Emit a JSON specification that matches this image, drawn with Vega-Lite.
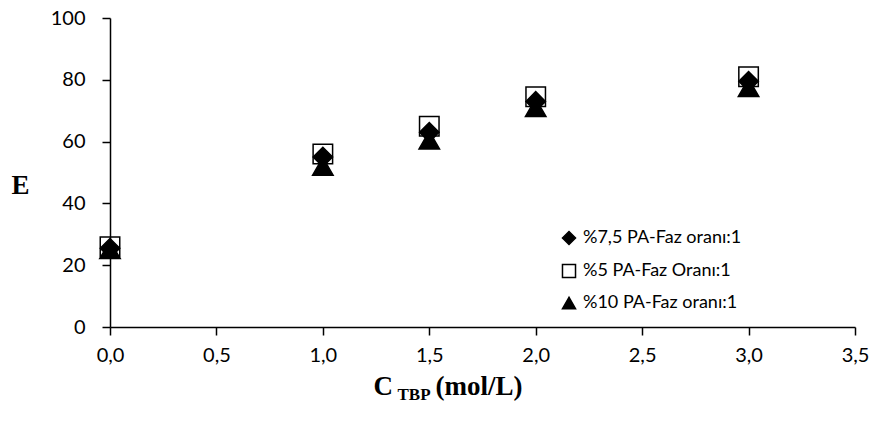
{
  "$schema": "https://vega.github.io/schema/vega-lite/v6.json",
  "autosize": "none",
  "width": 745,
  "height": 309,
  "padding": {"left": 110, "top": 18, "right": 21, "bottom": 98},
  "background": "white",
  "config": {
    "view": {"stroke": null},
    "axis": {
      "grid": false,
      "domainColor": "black",
      "tickColor": "black",
      "labelColor": "black",
      "labelFont": "Lato",
      "labelFontSize": 20,
      "domainWidth": 1.5,
      "tickWidth": 1.5,
      "tickSize": 8,
      "titleColor": "black",
      "titleFont": "Liberation Serif",
      "titleFontWeight": "bold"
    },
    "legend": {
      "orient": "none",
      "legendX": 450,
      "legendY": 211,
      "title": null,
      "labelFont": "Lato",
      "labelFontSize": 18,
      "labelColor": "black",
      "symbolSize": 170,
      "rowPadding": 13,
      "symbolStrokeWidth": 1.5,
      "labelOffset": 5
    }
  },
  "data": {
    "values": [
      {"c": 0, "E": 25.5, "series": "%7,5 PA-Faz oranı:1"},
      {"c": 1, "E": 55, "series": "%7,5 PA-Faz oranı:1"},
      {"c": 1.5, "E": 63, "series": "%7,5 PA-Faz oranı:1"},
      {"c": 2, "E": 73, "series": "%7,5 PA-Faz oranı:1"},
      {"c": 3, "E": 79.5, "series": "%7,5 PA-Faz oranı:1"},
      {"c": 0, "E": 26, "series": "%5 PA-Faz Oranı:1"},
      {"c": 1, "E": 56, "series": "%5 PA-Faz Oranı:1"},
      {"c": 1.5, "E": 65, "series": "%5 PA-Faz Oranı:1"},
      {"c": 2, "E": 74.5, "series": "%5 PA-Faz Oranı:1"},
      {"c": 3, "E": 81, "series": "%5 PA-Faz Oranı:1"},
      {"c": 0, "E": 25, "series": "%10 PA-Faz oranı:1"},
      {"c": 1, "E": 52, "series": "%10 PA-Faz oranı:1"},
      {"c": 1.5, "E": 60.5, "series": "%10 PA-Faz oranı:1"},
      {"c": 2, "E": 71, "series": "%10 PA-Faz oranı:1"},
      {"c": 3, "E": 77.5, "series": "%10 PA-Faz oranı:1"}
    ]
  },
  "resolve": {
    "scale": {"x": "independent", "y": "independent"},
    "axis": {"x": "independent", "y": "independent"}
  },
  "layer": [
    {
      "transform": [{"filter": "datum.series !== '%10 PA-Faz oranı:1'"}],
      "mark": {"type": "point", "strokeWidth": 1.5, "opacity": 1, "size": 380},
      "encoding": {
        "x": {
          "field": "c", "type": "quantitative",
          "scale": {"domain": [0, 3.5], "nice": false},
          "axis": {
            "values": [0, 0.5, 1, 1.5, 2, 2.5, 3, 3.5],
            "labelExpr": "replace(format(datum.value, '.1f'), '.', ',')",
            "labelFlush": false,
            "labelPadding": 10,
            "title": "C",
            "titleFontSize": 27,
            "titleX": 263,
            "titleY": 67,
            "titleAlign": "left",
            "titleBaseline": "alphabetic"
          }
        },
        "y": {
          "field": "E", "type": "quantitative",
          "scale": {"domain": [0, 100], "nice": false},
          "axis": {
            "values": [0, 20, 40, 60, 80, 100],
            "labelPadding": 17,
            "title": "E",
            "titleFontSize": 27,
            "titleAngle": 0,
            "titleX": -90,
            "titleY": 167,
            "titleAlign": "center",
            "titleBaseline": "middle"
          }
        },
        "shape": {
          "field": "series", "type": "nominal",
          "scale": {
            "domain": ["%7,5 PA-Faz oranı:1", "%5 PA-Faz Oranı:1", "%10 PA-Faz oranı:1"],
            "range": ["diamond", "square", "triangle-up"]
          }
        },
        "fill": {
          "field": "series", "type": "nominal",
          "scale": {
            "domain": ["%7,5 PA-Faz oranı:1", "%5 PA-Faz Oranı:1", "%10 PA-Faz oranı:1"],
            "range": ["black", "transparent", "black"]
          }
        },
        "stroke": {
          "field": "series", "type": "nominal",
          "scale": {
            "domain": ["%7,5 PA-Faz oranı:1", "%5 PA-Faz Oranı:1", "%10 PA-Faz oranı:1"],
            "range": ["black", "black", "black"]
          }
        }
      }
    },
    {
      "transform": [{"filter": "datum.series === '%10 PA-Faz oranı:1'"}],
      "mark": {"type": "point", "strokeWidth": 1.5, "opacity": 1, "size": 420},
      "encoding": {
        "x": {
          "field": "c", "type": "quantitative",
          "scale": {"domain": [0, 3.5], "nice": false},
          "axis": {
            "orient": "top",
            "labels": false,
            "ticks": false,
            "domain": false,
            "title": "TBP",
            "titleFontSize": 17,
            "titleX": 287,
            "titleY": 381,
            "titleAlign": "left",
            "titleBaseline": "alphabetic"
          }
        },
        "y": {
          "field": "E", "type": "quantitative",
          "scale": {"domain": [0, 100], "nice": false},
          "axis": {
            "orient": "right",
            "labels": false,
            "ticks": false,
            "domain": false,
            "title": "(mol/L)",
            "titleFontSize": 27,
            "titleAngle": 0,
            "titleX": -420,
            "titleY": 376,
            "titleAlign": "left",
            "titleBaseline": "alphabetic"
          }
        },
        "shape": {
          "field": "series", "type": "nominal",
          "scale": {
            "domain": ["%7,5 PA-Faz oranı:1", "%5 PA-Faz Oranı:1", "%10 PA-Faz oranı:1"],
            "range": ["diamond", "square", "triangle-up"]
          }
        },
        "fill": {
          "field": "series", "type": "nominal",
          "scale": {
            "domain": ["%7,5 PA-Faz oranı:1", "%5 PA-Faz Oranı:1", "%10 PA-Faz oranı:1"],
            "range": ["black", "transparent", "black"]
          }
        },
        "stroke": {
          "field": "series", "type": "nominal",
          "scale": {
            "domain": ["%7,5 PA-Faz oranı:1", "%5 PA-Faz Oranı:1", "%10 PA-Faz oranı:1"],
            "range": ["black", "black", "black"]
          }
        }
      }
    }
  ]
}
